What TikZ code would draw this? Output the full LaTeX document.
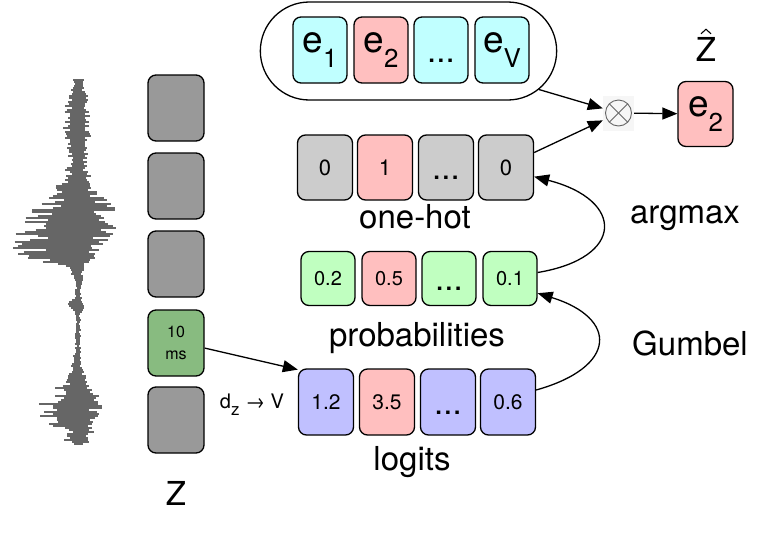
\documentclass[tikz,border=0pt]{standalone}
\usepackage{fontspec}
\setmainfont{TeX Gyre Heros}
\usetikzlibrary{arrows.meta,shapes.misc,calc}
\definecolor{zgray}{HTML}{999999}
\definecolor{zgreen}{HTML}{88BB80}
\definecolor{ecyan}{HTML}{C0FFFF}
\definecolor{epink}{HTML}{FFBFBF}
\definecolor{ohgray}{HTML}{CCCCCC}
\definecolor{pgreen}{HTML}{C0FFC0}
\definecolor{lblue}{HTML}{C0C0FF}
\definecolor{wavegray}{HTML}{666666}
\newcommand\mysub[1]{\raisebox{-0.4em}{\scalebox{0.7}{#1}}}
\newcommand\mysubz[1]{\raisebox{-0.35em}{\scalebox{0.85}{#1}}}
\begin{document}
\begin{tikzpicture}[x=1pt,y=-1pt,
  box/.style={draw, line width=1.3pt, rounded corners=8pt, inner sep=0pt},
  zbox/.style={box, fill=zgray, minimum width=56pt, minimum height=66pt},
  ebox/.style={box, fill=ecyan, minimum width=54pt, minimum height=66pt, font=\fontsize{37}{37}\selectfont},
  obox/.style={box, fill=ohgray, minimum width=55pt, minimum height=65pt, font=\fontsize{22}{22}\selectfont},
  pbox/.style={box, fill=pgreen, minimum width=54pt, minimum height=54pt, font=\fontsize{20}{20}\selectfont},
  lbox/.style={box, fill=lblue, minimum width=55pt, minimum height=66pt, font=\fontsize{21}{21}\selectfont},
  dotsbox/.style={font=\fontsize{33}{33}\selectfont, text height=24pt, text depth=0pt},
  lab/.style={font=\fontsize{33}{33}\selectfont, inner sep=0pt},
  arr/.style={-{Triangle[length=15pt,width=12pt]}, line width=1.3pt},
  wave/.style={draw=wavegray, line width=1.5pt}
]
\useasboundingbox (0,0) rectangle (761,542);

% waveform
\pgfmathsetseed{11}
\foreach \i in {0,...,182} {
  \pgfmathsetmacro\yy{80+2*\i}
  \pgfmathsetmacro\sa{ifthenelse(\yy>250,14,55)}
  \pgfmathsetmacro\ua{(\yy-250)/\sa}
  \pgfmathsetmacro\sb{ifthenelse(\yy>420,7,35)}
  \pgfmathsetmacro\ub{(\yy-420)/\sb}
  \pgfmathsetmacro\uc{(\yy-122)/34}
  \pgfmathsetmacro\ud{(\yy-305)/5}
  \pgfmathsetmacro\se{ifthenelse(\yy>225,32,42)}
  \pgfmathsetmacro\ue{(\yy-225)/\se}
  \pgfmathsetmacro\uf{(\yy-405)/25}
  \pgfmathsetmacro\ug{(\yy-438)/7}
  \pgfmathsetmacro\L{3+74*exp(-\ua*\ua)+46*exp(-\ub*\ub)+13*exp(-\uc*\uc)+10*exp(-\ud*\ud)+12*exp(-\ug*\ug)}
  \pgfmathsetmacro\R{3+40*exp(-\ue*\ue)+25*exp(-\uf*\uf)+13*exp(-\uc*\uc)+8*exp(-\ud*\ud)+12*exp(-\ug*\ug)}
  \pgfmathsetmacro\aa{\L*(0.4+0.6*rnd)}
  \pgfmathsetmacro\bb{\R*(0.4+0.6*rnd)}
  \draw[wave] (78-\aa,\yy) -- (78+\bb,\yy);
}

% Z column
\node[zbox] (z1) at (176,108) {};
\node[zbox] (z2) at (176,186) {};
\node[zbox] (z3) at (176,264) {};
\node[zbox, fill=zgreen, align=center, font=\fontsize{16}{22}\selectfont] (z4) at (176,343) {10\\ms};
\node[zbox] (z5) at (176,420) {};
\node[lab] (zl) at (176,493) {Z};

% embedding container
\node[draw, line width=1.3pt, rounded rectangle, minimum width=303pt, minimum height=98pt] (emb) at (408.5,51) {};
\node[ebox] (e1) at (320,50) {e\mysub{1}};
\node[ebox, fill=epink] (e2) at (381,50) {e\mysub{2}};
\node[ebox, dotsbox] (e3) at (441,50) {...};
\node[ebox] (e4) at (502,50) {e\mysub{V}};

% one-hot
\node[obox] (o1) at (325,167.5) {0};
\node[obox, fill=epink] (o2) at (385,167.5) {1};
\node[obox, dotsbox] (o3) at (446,167.5) {...};
\node[obox] (o4) at (506,167.5) {0};
\node[lab] (ol) at (415,217) {one-hot};

% probabilities
\node[pbox] (p1) at (328,278.5) {0.2};
\node[pbox, fill=epink] (p2) at (389,278.5) {0.5};
\node[pbox, dotsbox] (p3) at (449,278.5) {...};
\node[pbox] (p4) at (510,278.5) {0.1};
\node[lab] (pl) at (417,338) {probabilities};

% logits
\node[lbox] (l1) at (326,402) {1.2};
\node[lbox, fill=epink] (l2) at (387,402) {3.5};
\node[lbox, dotsbox] (l3) at (448,402) {...};
\node[lbox] (l4) at (508,402) {0.6};
\node[lab] (ll) at (412,462) {logits};
\node[font=\fontsize{20}{20}\selectfont, inner sep=0pt] (dz) at (252,405) {d\mysubz{z} → V};

% otimes and output
\node[fill=gray!7, minimum width=31pt, minimum height=35pt, inner sep=0pt] (ot) at (618.5,113) {};
\draw[line width=0.9pt, draw=wavegray] (ot.center) circle (13pt);
\draw[line width=0.9pt, draw=wavegray] ($(ot.center)+(-9.2,-9.2)$) -- ($(ot.center)+(9.2,9.2)$);
\draw[line width=0.9pt, draw=wavegray] ($(ot.center)+(-9.2,9.2)$) -- ($(ot.center)+(9.2,-9.2)$);
\node[ebox, fill=epink, minimum width=55pt, minimum height=65pt] (zh) at (705.5,114) {e\mysub{2}};
\node[lab] (zhl) at (706,49.5) {Z};
\draw[line width=1.1pt] ($(zhl.north)+(-5,-3.5)$) -- ($(zhl.north)+(0,-8)$) -- ($(zhl.north)+(5,-3.5)$);

\node[lab] (am) at (685,218) {argmax};
\node[lab] (gb) at (690,343) {Gumbel};

% connectors
\draw[arr] (emb) -- (ot);
\draw[arr] (o4.28) -- (ot);
\draw[arr] (ot) -- (zh);
\draw[arr] (z4.-10) -- (l1.131);
\draw[arr] (p4.east) ++(0,-6) .. controls (625,258) and (625,200) .. (o4.-18);
\draw[arr] (l4.east) ++(0,-12) .. controls (618,367) and (618,318) .. (p4.-28);
\end{tikzpicture}
\end{document}
